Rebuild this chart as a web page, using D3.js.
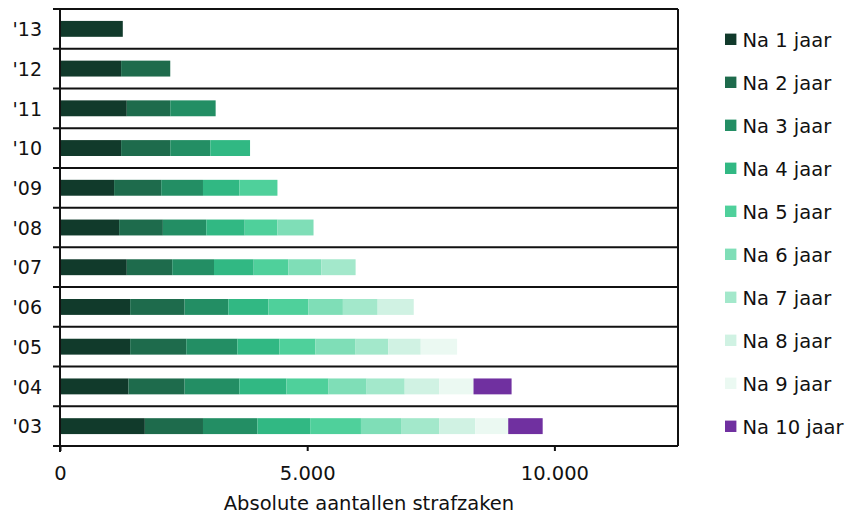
<!DOCTYPE html>
<html><head><meta charset="utf-8">
<script src="https://cdn.jsdelivr.net/npm/d3@7"></script>
<style>body{margin:0;background:#fff}svg{display:block}</style>
</head><body>
<svg id="c" width="847" height="517"></svg>
<script>
const years = ["'13","'12","'11","'10","'09","'08","'07","'06","'05","'04","'03"];
const seriesNames = ["Na 1 jaar","Na 2 jaar","Na 3 jaar","Na 4 jaar","Na 5 jaar","Na 6 jaar","Na 7 jaar","Na 8 jaar","Na 9 jaar","Na 10 jaar"];
const na1  = [1270,1236,1351,1236,1094,1196,1351,1419,1419,1385,1716];
const na2  = [0,994,879,994,953,885,919,1101,1135,1135,1176];
const na3  = [0,0,918,810,845,878,845,885,1033,1108,1101];
const na4  = [0,0,0,804,736,777,803,811,852,952,1067];
const na5  = [0,0,0,0,770,662,703,810,729,852,1027];
const na6  = [0,0,0,0,0,730,663,696,811,770,811];
const na7  = [0,0,0,0,0,0,695,703,662,770,770];
const na8  = [0,0,0,0,0,0,0,730,655,696,729];
const na9  = [0,0,0,0,0,0,0,0,736,696,669];
const na10 = [0,0,0,0,0,0,0,0,0,770,697];
const colors = ["#113a2b","#1e6b4c","#238e64","#31b883","#4fd09b","#7fdeb7","#a3e8cb","#d0f2e3","#ebf9f2","#7030a0"];
const xTicks = [0,5000,10000];
const xMax = 12500;
const axisTitle = "Absolute aantallen strafzaken";

const allSeries = [na1,na2,na3,na4,na5,na6,na7,na8,na9,na10];
const table = years.map((y,i)=>{const o={year:y}; seriesNames.forEach((k,j)=>o[k]=allSeries[j][i]); return o;});
const stacked = d3.stack().keys(seriesNames)(table);

const svg = d3.select("#c");
const L=60, R=678, T=9, B=446;
const font = "DejaVu Sans";
const fs = 19.5;
const x = d3.scaleLinear().domain([0,xMax]).range([L,R]);
const y = d3.scaleBand().domain(years).range([T,B]).paddingInner(0).paddingOuter(0);
const bh = y.bandwidth()*0.4;

// bars
const g = svg.append("g");
stacked.forEach((s,j)=>{
  g.append("g").attr("fill",colors[j]).selectAll("rect").data(s).join("rect")
   .attr("x",d=>x(d[0])).attr("width",d=>x(d[1])-x(d[0]))
   .attr("y",d=>y(d.data.year)+(y.bandwidth()-bh)/2).attr("height",bh);
});

// grid lines at row boundaries
const bounds = years.map(d=>y(d)).concat([B]);
svg.append("g").selectAll("line").data(bounds).join("line")
  .attr("x1",L-7).attr("x2",R).attr("y1",d=>d).attr("y2",d=>d)
  .attr("stroke","#111").attr("stroke-width",2);
// left axis and right border
svg.append("line").attr("x1",L).attr("x2",L).attr("y1",T).attr("y2",B+6).attr("stroke","#111").attr("stroke-width",2);
svg.append("line").attr("x1",R).attr("x2",R).attr("y1",T).attr("y2",B).attr("stroke","#111").attr("stroke-width",2);

// x axis
const loc = d3.formatLocale({decimal:",",thousands:".",grouping:[3],currency:["€",""]});
const xa = d3.axisBottom(x).tickValues(xTicks).tickFormat(loc.format(",")).tickSize(5);
const xg = svg.append("g").attr("transform",`translate(0,${B})`).call(xa);
xg.select(".domain").remove();
xg.selectAll(".tick line").attr("stroke","#111").attr("stroke-width",2);
xg.selectAll(".tick text").attr("font-family",font).attr("font-size",fs).attr("fill","#111")
  .attr("y",34).attr("dy",0);

svg.append("text").attr("x",369).attr("y",510).attr("text-anchor","middle")
  .attr("font-family",font).attr("font-size",fs).attr("fill","#111").text(axisTitle);

// y labels
svg.append("g").selectAll("text").data(years).join("text")
  .attr("x",42).attr("y",d=>y(d)+y.bandwidth()/2+7.2).attr("text-anchor","end")
  .attr("font-family",font).attr("font-size",19).attr("fill","#111").text(d=>d);

// legend
const lg = svg.append("g");
seriesNames.forEach((n,j)=>{
  const cy = 39.3 + j*43;
  lg.append("rect").attr("x",725).attr("y",cy-5.7).attr("width",11.4).attr("height",11.4).attr("fill",colors[j]);
  lg.append("text").attr("x",742.5).attr("y",cy+7.4).attr("font-family",font).attr("font-size",fs).attr("fill","#111").text(n);
});
</script>
</body></html>
